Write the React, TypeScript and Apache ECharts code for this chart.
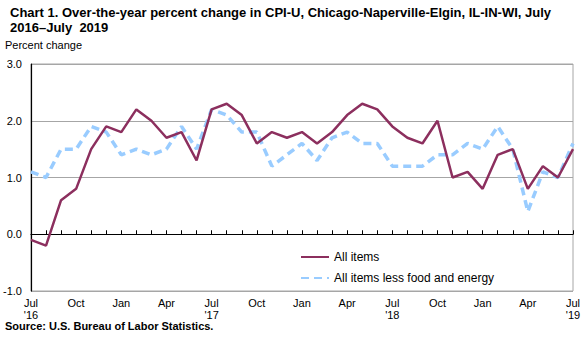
import React, { useEffect, useRef } from "react";
import * as echarts from "echarts";

const categories: string[] = [
  "Jul\n'16", "Aug", "Sep", "Oct", "Nov", "Dec",
  "Jan", "Feb", "Mar", "Apr", "May", "Jun",
  "Jul\n'17", "Aug", "Sep", "Oct", "Nov", "Dec",
  "Jan", "Feb", "Mar", "Apr", "May", "Jun",
  "Jul\n'18", "Aug", "Sep", "Oct", "Nov", "Dec",
  "Jan", "Feb", "Mar", "Apr", "May", "Jun",
  "Jul\n'19",
];

const allItems: number[] = [
  -0.1, -0.2, 0.6, 0.8, 1.5, 1.9,
  1.8, 2.2, 2.0, 1.7, 1.8, 1.3,
  2.2, 2.3, 2.1, 1.6, 1.8, 1.7,
  1.8, 1.6, 1.8, 2.1, 2.3, 2.2,
  1.9, 1.7, 1.6, 2.0, 1.0, 1.1,
  0.8, 1.4, 1.5, 0.8, 1.2, 1.0,
  1.5,
];

const lessFoodEnergy: number[] = [
  1.1, 1.0, 1.5, 1.5, 1.9, 1.8,
  1.4, 1.5, 1.4, 1.5, 1.9, 1.5,
  2.2, 2.1, 1.8, 1.8, 1.2, 1.4,
  1.6, 1.3, 1.7, 1.8, 1.6, 1.6,
  1.2, 1.2, 1.2, 1.4, 1.4, 1.6,
  1.5, 1.9, 1.5, 0.4, 1.1, 1.0,
  1.6,
];

const seriesNames: string[] = ["All items", "All items less food and energy"];

const FONT = "'Liberation Sans', Arial, sans-serif";

export default function App() {
  const ref = useRef<HTMLDivElement>(null);
  useEffect(() => {
    if (!ref.current) return;
    const chart = echarts.init(ref.current, undefined, { renderer: "svg" });
    chart.setOption({
      animation: false,
      backgroundColor: "#ffffff",
      title: {
        text: "Chart 1. Over-the-year percent change in CPI-U, Chicago-Naperville-Elgin, IL-IN-WI, July\n2016\u2013July  2019",
        left: 5,
        top: 0,
        textStyle: { fontFamily: FONT, fontWeight: "bold", fontSize: 13, lineHeight: 15, color: "#000" },
      },
      graphic: [
        {
          type: "text",
          left: 5,
          top: 39,
          style: { text: "Percent change", font: `11px ${FONT}`, fill: "#000" },
        },
        {
          type: "text",
          left: 5,
          top: 320,
          style: { text: "Source: U.S. Bureau of Labor Statistics.", font: `bold 11px ${FONT}`, fill: "#000" },
        },
      ],
      legend: {
        orient: "vertical",
        left: 300,
        top: 251,
        padding: 0,
        itemWidth: 28,
        itemHeight: 14,
        itemGap: 9,
        itemStyle: { opacity: 0 },
        textStyle: { fontFamily: FONT, fontSize: 12, color: "#000" },
        data: seriesNames,
      },
      grid: {
        left: 30,
        right: 15,
        top: 64,
        bottom: 46,
        show: true,
        borderColor: "#A6A6A6",
        borderWidth: 1,
        containLabel: false,
      },
      xAxis: [
        {
          type: "category",
          data: categories,
          boundaryGap: false,
          position: "bottom",
          axisLine: { onZero: true, lineStyle: { color: "#000", width: 1.2 } },
          axisTick: { show: true, inside: true, length: 4, interval: 0, lineStyle: { color: "#000" } },
          axisLabel: { show: false },
          splitLine: { show: false },
        },
        {
          type: "category",
          data: categories,
          boundaryGap: false,
          position: "bottom",
          axisLine: { show: false, onZero: false },
          axisTick: { show: false },
          axisLabel: {
            show: true,
            interval: 2,
            fontFamily: FONT,
            fontSize: 11,
            lineHeight: 12,
            color: "#000",
            margin: 6,
          },
          splitLine: { show: false },
        },
      ],
      yAxis: {
        type: "value",
        min: -1,
        max: 3,
        interval: 1,
        axisLine: { show: true, onZero: false, lineStyle: { color: "#000", width: 1.2 } },
        axisTick: { show: false },
        axisLabel: {
          formatter: (v: number) => v.toFixed(1),
          fontFamily: FONT,
          fontSize: 11,
          color: "#000",
          margin: 9,
        },
        splitLine: { show: true, lineStyle: { color: "#A6A6A6", width: 1 } },
      },
      series: [
        {
          name: seriesNames[0],
          type: "line",
          xAxisIndex: 0,
          data: allItems,
          symbol: "none",
          lineStyle: { color: "#8C2F5E", width: 2.5 },
          itemStyle: { color: "#8C2F5E" },
          z: 3,
        },
        {
          name: seriesNames[1],
          type: "line",
          xAxisIndex: 0,
          data: lessFoodEnergy,
          symbol: "none",
          lineStyle: { color: "#99CCFF", width: 3.5, type: [8, 5] },
          itemStyle: { color: "#99CCFF" },
          z: 2,
        },
      ],
    });
    return () => chart.dispose();
  }, []);
  return <div ref={ref} style={{ width: 588, height: 337, position: "absolute", left: 0, top: 0 }} />;
}
